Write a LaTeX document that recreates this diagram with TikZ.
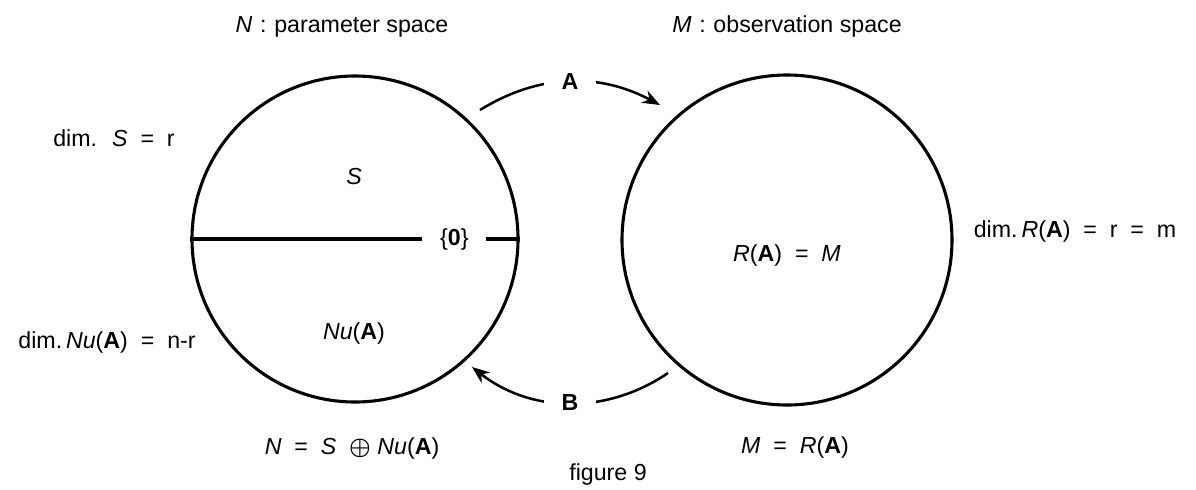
\documentclass[tikz,border=0pt]{standalone}
\usepackage{amsmath}
\usepackage{fontspec}
\setmainfont{Liberation Sans}
\usetikzlibrary{positioning, arrows.meta}

\begin{document}
\begin{tikzpicture}[
  >={Stealth[length=4.4mm, width=3.4mm]},
  every node/.style={font=\fontsize{16.5}{19}\selectfont},
  disc/.style = {circle, draw, line width=2.2pt, inner sep=0pt},
  lbl/.style  = {inner sep=1pt},
  gap/.style  = {fill=white, inner xsep=0.45cm, inner ysep=2pt},
  bar/.style  = {line width=2.3pt},
  map/.style  = {line width=1.8pt},
]
  \useasboundingbox (0,0) rectangle (29.9,12.225);

  % the two spaces
  \node[disc, minimum size=8.15cm] (lc) at (8.875,6.25)  {};
  \node[disc, minimum size=8.25cm] (rc) at (19.675,6.225) {};

  % split of N into S and its null part
  \node[lbl, inner xsep=0.44cm] (zero) at ([xshift=2.485cm]lc.center) {\{\textbf{0}\}};
  \draw[bar] (lc.west) -- (zero.west);
  \draw[bar] (zero.east) -- (lc.east);

  \node[lbl] (s)  at (8.85,7.8)  {\textit{S}};
  \node[lbl] (nu) at (8.85,3.9)  {\textit{Nu}(\textbf{A})};
  \node[lbl] (ra) at (19.675,5.85) {\textit{R}(\textbf{A})\; =\; \textit{M}};

  % titles and dimensions
  \node[lbl] (ttl) at (8.55,11.55)  {\textit{N}\,\,:\,\,parameter space};
  \node[lbl] (ttr) at (19.675,11.55) {\textit{M}\,\,:\,\,observation space};
  \node[lbl] (dims)  at (2.85,8.775)  {dim.\; \textit{S}\; =\; r};
  \node[lbl] (dimnu) at (2.675,3.675) {dim.\,\textit{Nu}(\textbf{A})\; =\; n-r};
  \node[lbl] (dimr)  at (26.875,6.45) {dim.\,\textit{R}(\textbf{A})\; =\; r\; =\; m};
  \node[lbl] (sumn)  at (8.8,1.025)   {\textit{N}\; =\; \textit{S}\; $\boldsymbol{\oplus}$ \textit{Nu}(\textbf{A})};
  \node[lbl] (eqm)   at (19.875,1.05) {\textit{M}\; =\; \textit{R}(\textbf{A})};
  \node[lbl] (fig)   at (15.2,0.375)  {figure 9};

  % the maps A and B
  \coordinate (a0) at (12.0,9.475);
  \coordinate (a1) at (16.5,9.6);
  \coordinate (b0) at (16.7,2.9);
  \coordinate (b1) at (11.8,3.05);
  \draw[map, ->] (a0) .. controls (13.5,10.4) and (15.0,10.4) .. (a1)
        node[pos=0.5, gap] (ma) {\textbf{A}};
  \draw[map, ->] (b0) .. controls (15.2,1.875) and (13.3,1.875) .. (b1)
        node[pos=0.5, gap] (mb) {\textbf{B}};
\end{tikzpicture}
\end{document}
